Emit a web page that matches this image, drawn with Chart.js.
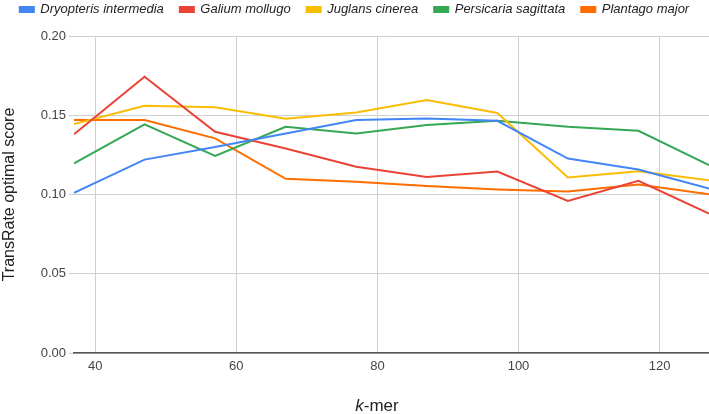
<!DOCTYPE html>
<html>
<head>
<meta charset="utf-8">
<script src="https://cdn.jsdelivr.net/npm/chart.js@4.4.0/dist/chart.umd.min.js"></script>
<style>
  html, body { margin: 0; padding: 0; background: #fff; }
  #wrap { position: relative; width: 709px; height: 414px; overflow: hidden; }
  #c { position: absolute; left: 0; top: -13px; }
  #xTitle {
    position: absolute; left: 0; width: 754px; top: 396px;
    text-align: center; font: 17px "Liberation Sans", Arial, sans-serif; color: #222;
  }
</style>
</head>
<body>
<div id="wrap">
  <canvas id="c" width="709" height="427"></canvas>
  <div id="xTitle"><i>k</i>-mer</div>
</div>
<script>
/* ── data ── */
const KMERS = [37, 47, 57, 67, 77, 87, 97, 107, 117, 127];
const SPECIES = ['Dryopteris intermedia', 'Galium mollugo', 'Juglans cinerea', 'Persicaria sagittata', 'Plantago major'];
const DRYOPTERIS = [0.101, 0.122, 0.130, 0.1385, 0.147, 0.148, 0.1465, 0.1227, 0.1158, 0.1038];
const GALIUM     = [0.138, 0.1743, 0.1396, 0.129, 0.1175, 0.111, 0.1145, 0.096, 0.1086, 0.088];
const JUGLANS    = [0.1444, 0.156, 0.155, 0.1478, 0.1518, 0.1596, 0.1514, 0.1107, 0.1147, 0.109];
const PERSICARIA = [0.1196, 0.1442, 0.1244, 0.1427, 0.1385, 0.1438, 0.1465, 0.1427, 0.1402, 0.1185];
const PLANTAGO   = [0.147, 0.147, 0.1354, 0.1099, 0.108, 0.1053, 0.1032, 0.1019, 0.1063, 0.1002];
const Y_TICKS = [0, 0.05, 0.10, 0.15, 0.20];
const X_TICKS = [40, 60, 80, 100, 120];

const COLORS = ['#4285f4', '#ea4335', '#fbbc04', '#34a853', '#ff6d01'];
const SERIES = [DRYOPTERIS, GALIUM, JUGLANS, PERSICARIA, PLANTAGO];

const FONT = '"Liberation Sans", Arial, sans-serif';

/* legend box height fixed so the plot starts where the reference does */
const legendHeight = {
  id: 'legendHeight',
  beforeInit(chart) {
    const fit = chart.legend.fit;
    chart.legend.fit = function () { fit.call(this); this.height = 49; };
  }
};

const datasets = SERIES.map((vals, i) => ({
  label: SPECIES[i],
  data: vals.map((v, j) => ({ x: KMERS[j], y: v })),
  borderColor: COLORS[i],
  backgroundColor: COLORS[i],
  borderWidth: 2,
  pointRadius: 0,
  tension: 0,
  fill: false
}));

new Chart(document.getElementById('c'), {
  type: 'line',
  data: { datasets },
  plugins: [legendHeight],
  options: {
    responsive: false, animation: false,
    layout: { padding: 0 },
    plugins: {
      legend: {
        display: true, position: 'top',
        labels: {
          color: '#222', boxWidth: 14, boxHeight: 5, padding: 16,
          font: { family: FONT, size: 13, style: 'italic' }
        }
      },
      tooltip: { enabled: false }
    },
    scales: {
      x: {
        type: 'linear', min: KMERS[0], max: KMERS[KMERS.length - 1],
        afterBuildTicks: s => { s.ticks = X_TICKS.map(v => ({ value: v })); },
        afterFit: s => { s.height = 61; },
        ticks: { color: '#444', font: { family: FONT, size: 13 }, padding: 6, maxRotation: 0 },
        grid: { color: '#d0d0d0', drawTicks: false },
        border: { display: true, color: '#555', width: 1.5 }
      },
      y: {
        min: 0, max: 0.2,
        afterBuildTicks: s => { s.ticks = Y_TICKS.map(v => ({ value: v })); },
        afterFit: s => { s.width = 74; },
        ticks: { color: '#444', font: { family: FONT, size: 13 }, padding: 3, callback: v => v.toFixed(2) },
        grid: { color: '#d0d0d0', tickLength: 5 },
        border: { display: false },
        title: { display: true, text: 'TransRate optimal score', color: '#222', font: { family: FONT, size: 16 }, padding: 0 }
      }
    }
  }
});
</script>
</body>
</html>
